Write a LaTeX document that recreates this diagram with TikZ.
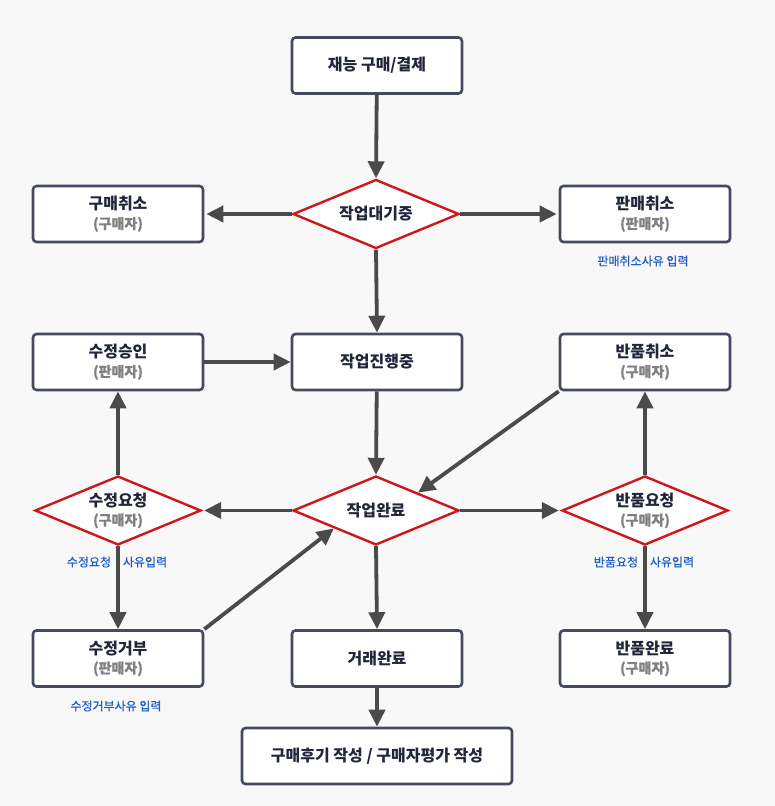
\documentclass[tikz,border=0pt]{standalone}
\usepackage{fontspec}
\setmainfont{Noto Sans CJK KR}
\newfontfamily\medfont{Noto Sans CJK KR}[FakeBold=0.5]
\usetikzlibrary{shapes.geometric,arrows.meta}
\definecolor{bg}{HTML}{F8F8F8}
\definecolor{boxline}{HTML}{454A5F}
\definecolor{maintext}{HTML}{22263A}
\definecolor{subtext}{HTML}{808080}
\definecolor{notetext}{HTML}{1F5CC4}
\definecolor{dialine}{HTML}{D0161B}
\definecolor{arrowc}{HTML}{4A4A4A}
\tikzset{
  box/.style={draw=boxline, line width=2.6pt, fill=white, rounded corners=3.5pt,
    minimum width=170pt, minimum height=56pt, inner sep=0pt, align=center,
    font=\fontsize{16}{21}\selectfont\bfseries, text=maintext},
  widebox/.style={box, minimum width=270pt},
  decision/.style={diamond, draw=dialine, line width=2.4pt, fill=white,
    minimum width=166pt, minimum height=69pt, inner sep=0pt},
  dtext/.style={align=center, font=\fontsize{16}{21}\selectfont\bfseries, text=maintext, inner sep=0pt},
  note/.style={font=\fontsize{12}{14}\medfont, text=notetext, inner sep=0pt},
  flow/.style={draw=arrowc, line width=3.8pt,
    -{Triangle[length=17pt,width=16pt]}},
}
\newcommand{\who}[1]{\\[-2pt]{\fontsize{14}{17}\medfont\color{subtext}#1}}
\begin{document}
\begin{tikzpicture}[x=1pt,y=-1pt]
  \fill[bg] (0,0) rectangle (775,806);
  \useasboundingbox (0,0) rectangle (775,806);

  % boxes
  \node[box] (pay) at (377,65.5) {재능 구매/결제};
  \node[box] (bcancel) at (118,214) {구매취소\who{(구매자)}};
  \node[box] (scancel) at (645,214) {판매취소\who{(판매자)}};
  \node[box] (progress) at (377,362) {작업진행중};
  \node[box] (approve) at (118,362) {수정승인\who{(판매자)}};
  \node[box] (rcancel) at (645,362) {반품취소\who{(구매자)}};
  \node[box] (reject) at (118,658.5) {수정거부\who{(판매자)}};
  \node[box] (deal) at (377,658.5) {거래완료};
  \node[box] (rdone) at (645,658.5) {반품완료\who{(구매자)}};
  \node[widebox] (review) at (377,756) {구매후기 작성 / 구매자평가 작성};

  % decisions
  \node[decision] (wait) at (376,214) {};
  \node[dtext] (waitt) at (wait) {작업대기중};
  \node[decision] (done) at (376,510.5) {};
  \node[dtext] (donet) at (done) {작업완료};
  \node[decision] (modreq) at (118,510.5) {};
  \node[dtext] (modreqt) at (modreq) {수정요청\who{(구매자)}};
  \node[decision] (retreq) at (645,510.5) {};
  \node[dtext] (retreqt) at (retreq) {반품요청\who{(구매자)}};

  % notes
  \node[note] (n1) at (643,261) {판매취소사유 입력};
  \node[note] (n2a) at (89,562) {수정요청};
  \node[note] (n2b) at (145,562) {사유입력};
  \node[note] (n3a) at (616,562) {반품요청};
  \node[note] (n3b) at (672,562) {사유입력};
  \node[note] (n4) at (116,706) {수정거부사유 입력};

  % connectors
  \draw[flow] (pay) -- (wait.north);
  \draw[flow, shorten >=2pt] (wait.west) -- (bcancel.east);
  \draw[flow, shorten >=2pt] (wait.east) -- (scancel.west);
  \draw[flow] (wait.south) -- (progress.north);
  \draw[flow] (approve) -- (progress);
  \draw[flow] (progress) -- (done.north);
  \draw[flow] (rcancel.south west) -- (done.north east);
  \draw[flow, shorten >=2pt] (done.west) -- (modreq.east);
  \draw[flow, shorten >=2pt] (done.east) -- (retreq.west);
  \draw[flow] (modreq.north) -- (approve.south);
  \draw[flow] (modreq.south) -- (reject.north);
  \draw[flow] (reject.north east) -- (done.south west);
  \draw[flow] (done.south) -- (deal.north);
  \draw[flow] (retreq.north) -- (rcancel.south);
  \draw[flow] (retreq.south) -- (rdone.north);
  \draw[flow] (deal) -- (review);
\end{tikzpicture}
\end{document}
